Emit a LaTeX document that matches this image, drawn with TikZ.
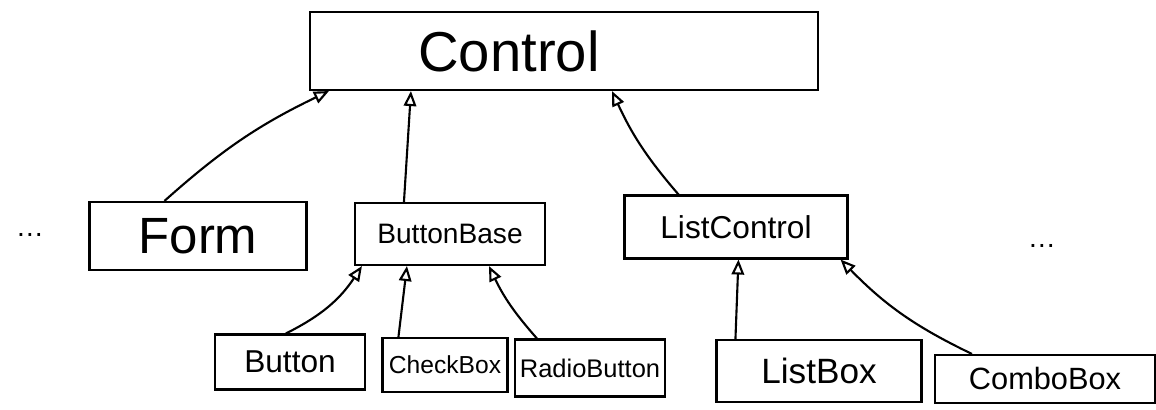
\documentclass[tikz,border=0pt]{standalone}
\usepackage{fontspec}
\setmainfont{Liberation Sans}
\usetikzlibrary{arrows.meta}
\begin{document}
\begin{tikzpicture}[line width=1.2pt,
  cls/.style={draw,rectangle,inner sep=0pt},
  inherit/.style={-{Triangle[open,length=0.3cm,width=0.25cm]}},
  more/.style={font=\fontsize{16}{18}\selectfont}]
  \useasboundingbox (0,0) rectangle (23.12,8.2);
  % base class
  \node[cls,minimum width=10.16cm,minimum height=1.56cm,font=\fontsize{32}{34}\selectfont] (control) at (11.28,7.18) {Control\kern2.2cm};
  % second row
  \node[cls,minimum width=4.34cm,minimum height=1.36cm,font=\fontsize{29}{31}\selectfont] (form) at (3.96,3.48) {Form};
  \node[cls,minimum width=3.8cm,minimum height=1.24cm,font=\fontsize{16}{18}\selectfont] (buttonbase) at (9.0,3.52) {ButtonBase};
  \node[cls,minimum width=4.46cm,minimum height=1.26cm,font=\fontsize{18}{20}\selectfont] (listctl) at (14.72,3.66) {ListControl};
  \node[more] (dotsl) at (0.6,3.5) {\dots};
  \node[more] (dotsr) at (20.84,3.28) {\dots};
  % leaf classes
  \node[cls,minimum width=3.0cm,minimum height=1.1cm,font=\fontsize{18}{20}\selectfont] (button) at (5.8,0.96) {Button};
  \node[cls,minimum width=2.5cm,minimum height=1.08cm,font=\fontsize{14}{16}\selectfont] (checkbox) at (8.9,0.9) {CheckBox};
  \node[cls,minimum width=3.0cm,minimum height=1.14cm,font=\fontsize{14.5}{16}\selectfont] (radio) at (11.8,0.84) {RadioButton};
  \node[cls,minimum width=4.1cm,minimum height=1.24cm,font=\fontsize{20}{22}\selectfont] (listbox) at (16.38,0.78) {ListBox};
  \node[cls,minimum width=4.4cm,minimum height=0.96cm,font=\fontsize{17.5}{19}\selectfont] (combobox) at (20.9,0.62) {ComboBox};
  % generalisations
  \draw[inherit] ([xshift=1.52cm]form.north west) to[bend left=8] ([xshift=0.4cm]control.south west);
  \draw[inherit] ([xshift=1.0cm]buttonbase.north west) -- ([xshift=2.04cm]control.south west);
  \draw[inherit] ([xshift=1.1cm]listctl.north west) to[bend left=8] ([xshift=6.06cm]control.south west);
  \draw[inherit] ([xshift=1.44cm]button.north west) to[bend right=15] ([xshift=0.16cm]buttonbase.south west);
  \draw[inherit] ([xshift=0.34cm]checkbox.north west) -- ([xshift=1.06cm]buttonbase.south west);
  \draw[inherit] ([xshift=0.46cm]radio.north west) to[bend left=8] ([xshift=2.7cm]buttonbase.south west);
  \draw[inherit] ([xshift=0.4cm]listbox.north west) -- ([xshift=2.3cm]listctl.south west);
  \draw[inherit] ([xshift=0.76cm]combobox.north west) to[bend left=10] ([xshift=-0.16cm]listctl.south east);
\end{tikzpicture}
\end{document}
